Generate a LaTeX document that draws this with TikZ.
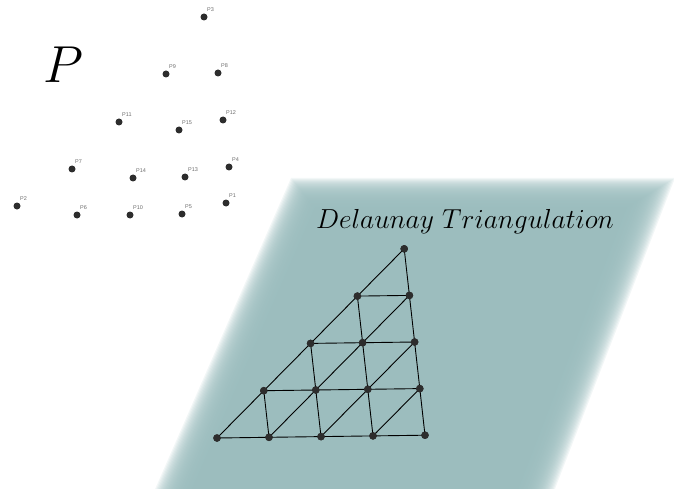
\documentclass[tikz,border=0pt]{standalone}
\usepackage{fontspec}
\newfontfamily\labfont{Liberation Sans}
\definecolor{plane}{RGB}{154,188,189}
\definecolor{dotc}{RGB}{45,45,45}
\definecolor{labc}{RGB}{110,110,110}
\tikzset{
  dot/.style={circle,fill=dotc,inner sep=0pt,minimum size=7pt},
  gdot/.style={circle,fill=dotc,inner sep=0pt,minimum size=7.5pt},
  lbl/.style={anchor=west,inner sep=0pt,text=labc,font=\labfont\fontsize{5.5}{6}\selectfont},
  edge/.style={draw=black,line width=0.9pt}
}
\begin{document}
\begin{tikzpicture}[x=1pt,y=-1pt]
\useasboundingbox (0,0) rectangle (674,489);
\begin{scope}
\clip (0,0) rectangle (674,489);
\foreach \k in {0,...,29}{
  \pgfmathsetmacro\d{\k*1.3}
  \pgfmathsetmacro\ty{178+\d*0.8}
  \pgfmathsetmacro\lt{291+\d-0.437*(\ty-178)}
  \pgfmathsetmacro\lb{291+\d-0.437*(495-178)}
  \pgfmathsetmacro\rt{675-\d-0.386*(\ty-178)}
  \pgfmathsetmacro\rb{675-\d-0.386*(495-178)}
  \fill[plane,opacity=0.125] (\lt,\ty) -- (\rt,\ty) -- (\rb,495) -- (\lb,495) -- cycle;
}
\end{scope}
% title texts
\node[anchor=center,inner sep=0pt,scale=2.09] (ptitle) at (63,65) {\Huge $P$};
\node[anchor=center,inner sep=0pt,scale=1.105] (dtitle) at (465,222) {\Huge $Delaunay\ Triangulation$};
% point set
\foreach \n/\x/\y in {1/226/203,2/17/206,3/204/17,4/229/167,5/182/214,6/77/215,7/72/169,8/218/73,9/166/74,10/130/215,11/119/122,12/223/120,13/185/177,14/133/178,15/179/130}{
  \node[dot] (p\n) at (\x,\y) {};
  \node[lbl] (l\n) at ([xshift=3pt,yshift=7pt]p\n.center) {P\n};
}
% triangulation grid
\foreach \i in {0,...,4}{
  \pgfmathtruncatemacro\jmax{4-\i}
  \foreach \j in {0,...,\jmax}{
    \node[gdot] (g\i\j) at ({217+52*\i+46.8*\j},{438-0.7*\i-47.3*\j}) {};
  }
}
\foreach \i in {0,...,3}{
  \pgfmathtruncatemacro\jmax{3-\i}
  \foreach \j in {0,...,\jmax}{
    \pgfmathtruncatemacro\ii{\i+1}
    \pgfmathtruncatemacro\jj{\j+1}
    \draw[edge] (g\i\j.center) -- (g\ii\j.center);
    \draw[edge] (g\i\j.center) -- (g\i\jj.center);
    \draw[edge] (g\ii\j.center) -- (g\i\jj.center);
  }
}
% redraw grid dots on top
\foreach \i in {0,...,4}{
  \pgfmathtruncatemacro\jmax{4-\i}
  \foreach \j in {0,...,\jmax}{
    \fill[dotc] (g\i\j.center) circle (3.75pt);
  }
}
\end{tikzpicture}
\end{document}
